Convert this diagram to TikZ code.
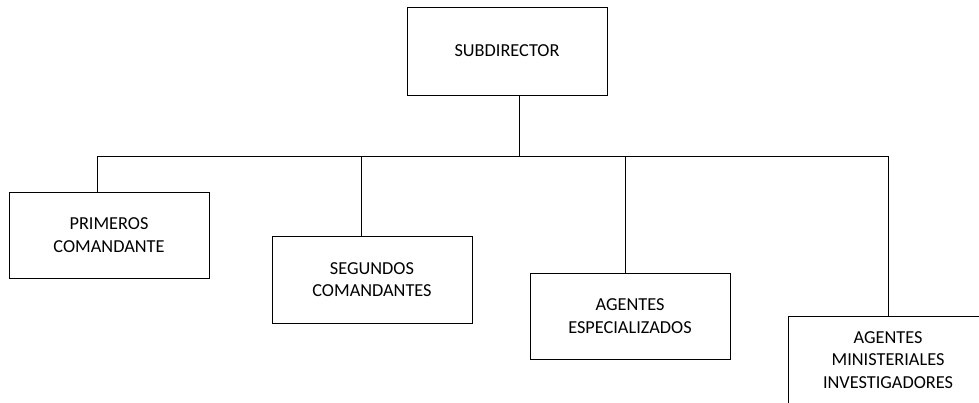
\documentclass[tikz,border=0pt]{standalone}
\usepackage{fontspec}
\setmainfont{Carlito}
\begin{document}
\begin{tikzpicture}[x=1pt,y=-1pt,
  orgbox/.style={draw=black,line width=0.9pt,fill=white,minimum width=200pt,minimum height=87pt,
    inner sep=0pt,align=center,font=\fontsize{18.3}{22.5}\selectfont,text=black},
  link/.style={draw=black,line width=0.9pt}]
\useasboundingbox (0,0) rectangle (979,403);
\clip (0,0) rectangle (979,403);
\fill[white] (0,0) rectangle (979,403);
\node[orgbox,minimum height=88pt] (top) at (507,51) {SUBDIRECTOR};
\node[orgbox,minimum height=86pt] (b1) at (109,235) {PRIMEROS\\COMANDANTE};
\node[orgbox] (b2) at (372,279.5) {SEGUNDOS\\COMANDANTES};
\node[orgbox,minimum height=86pt] (b3) at (630,316) {AGENTES\\ESPECIALIZADOS};
\node[orgbox,minimum height=88pt] (b4) at (888,360) {AGENTES\\MINISTERIALES\\INVESTIGADORES};
\coordinate (j) at (519,156);
\coordinate (d1) at (97,156);
\coordinate (d2) at (361,156);
\coordinate (d3) at (625,156);
\coordinate (d4) at (888,156);
\draw[link] (top.south -| j) -- (j);
\draw[link] (d1) -- (d4);
\draw[link] (d1) -- (d1 |- b1.north);
\draw[link] (d2) -- (d2 |- b2.north);
\draw[link] (d3) -- (d3 |- b3.north);
\draw[link] (d4) -- (d4 |- b4.north);
\end{tikzpicture}
\end{document}
